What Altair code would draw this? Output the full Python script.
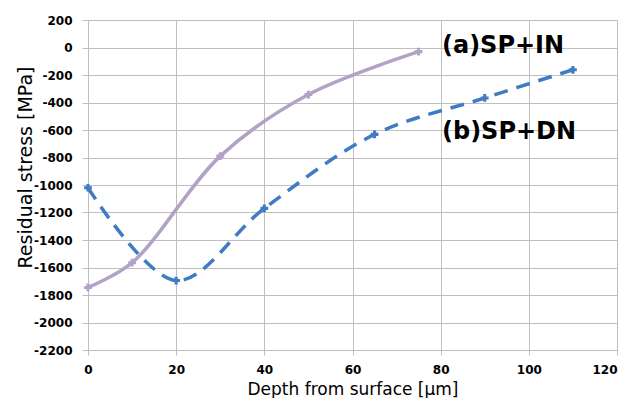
import altair as alt
import pandas as pd

# Series (a) SP+IN
a_depth = [0, 10, 30, 50, 75]
a_stress = [-1745, -1565, -790, -342, -30]
# Series (b) SP+DN
b_depth = [0, 20, 40, 65, 90, 110]
b_stress = [-1020, -1695, -1170, -632, -367, -162]

series_names = ["(a)SP+IN", "(b)SP+DN"]
label_x = [80.3, 80.3]
label_y = [10, -615]

x_ticks = [0, 20, 40, 60, 80, 100, 120]
y_ticks = [200, 0, -200, -400, -600, -800, -1000, -1200, -1400, -1600, -1800, -2000, -2200]

df_a = pd.DataFrame({"depth": a_depth, "stress": a_stress, "series": series_names[0]})
df_b = pd.DataFrame({"depth": b_depth, "stress": b_stress, "series": series_names[1]})
df_lab = pd.DataFrame({"depth": label_x, "stress": label_y, "text": series_names})

FONT = "DejaVu Sans"
GRID = "#bfbfbf"

xs = alt.Scale(domain=[0, 120], nice=False, zero=False)
ys = alt.Scale(domain=[-2200, 200], nice=False, zero=False)

x_axis = alt.Axis(values=x_ticks, title="Depth from surface [µm]", grid=True,
                  labelExpr="'' + datum.value", labelOverlap=False,
                  labelAlign={"condition": {"test": "datum.value >= 120", "value": "right"},
                              "value": "center"},
                  labelFontWeight="bold", labelFontSize=12, labelFont=FONT,
                  titleFont=FONT, titleFontSize=17, titleFontWeight="normal",
                  titleColor="#000000", labelColor="#000000",
                  tickColor=GRID, tickSize=5, domainColor=GRID,
                  gridColor=GRID, labelPadding=9,
                  titleX=264.5, titleY=39, titleAlign="center", titleBaseline="middle",
                  labelFlush=False)
y_axis = alt.Axis(values=y_ticks, title="Residual stress [MPa]", grid=True,
                  labelExpr="'' + datum.value", labelOverlap=False,
                  labelFontWeight="bold", labelFontSize=12, labelFont=FONT,
                  titleFont=FONT, titleFontSize=19, titleFontWeight="normal",
                  titleColor="#000000", labelColor="#000000",
                  tickColor=GRID, tickSize=6, domainColor=GRID,
                  gridColor=GRID, labelPadding=10,
                  titleX=-63, titleY=147, titleAlign="center", titleBaseline="middle",
                  titleAngle=270,
                  labelFlush=False)

X = alt.X("depth:Q", scale=xs, axis=x_axis)
Y = alt.Y("stress:Q", scale=ys, axis=y_axis)

line_a = alt.Chart(df_a).mark_line(color="#b3a2c7", strokeWidth=3.5,
                                    interpolate="catmull-rom").encode(x=X, y=Y)
pts_a = alt.Chart(df_a).mark_point(shape="cross", filled=True, size=60,
                                    color="#b3a2c7", opacity=1).encode(x=X, y=Y)

line_b = alt.Chart(df_b).mark_line(color="#3f7cc4", strokeWidth=3.5,
                                    strokeDash=[14, 9],
                                    interpolate="catmull-rom").encode(x=X, y=Y)
pts_b = alt.Chart(df_b).mark_point(shape="cross", filled=True, size=60,
                                    color="#3f7cc4", opacity=1).encode(x=X, y=Y)

labels = alt.Chart(df_lab).mark_text(align="left", baseline="middle",
                                      font=FONT, fontSize=24, fontWeight="bold",
                                      color="#000000").encode(x=X, y=Y, text="text:N")

chart = alt.layer(line_a, line_b, pts_a, pts_b, labels).properties(
    width=529, height=330,
    autosize=alt.AutoSizeParams(type="none"),
    padding={"left": 80, "top": 12, "right": 5, "bottom": 48},
    background="#ffffff",
).configure_view(stroke=GRID)

chart.save("out.html", embed_options={"renderer": "svg", "actions": False})
